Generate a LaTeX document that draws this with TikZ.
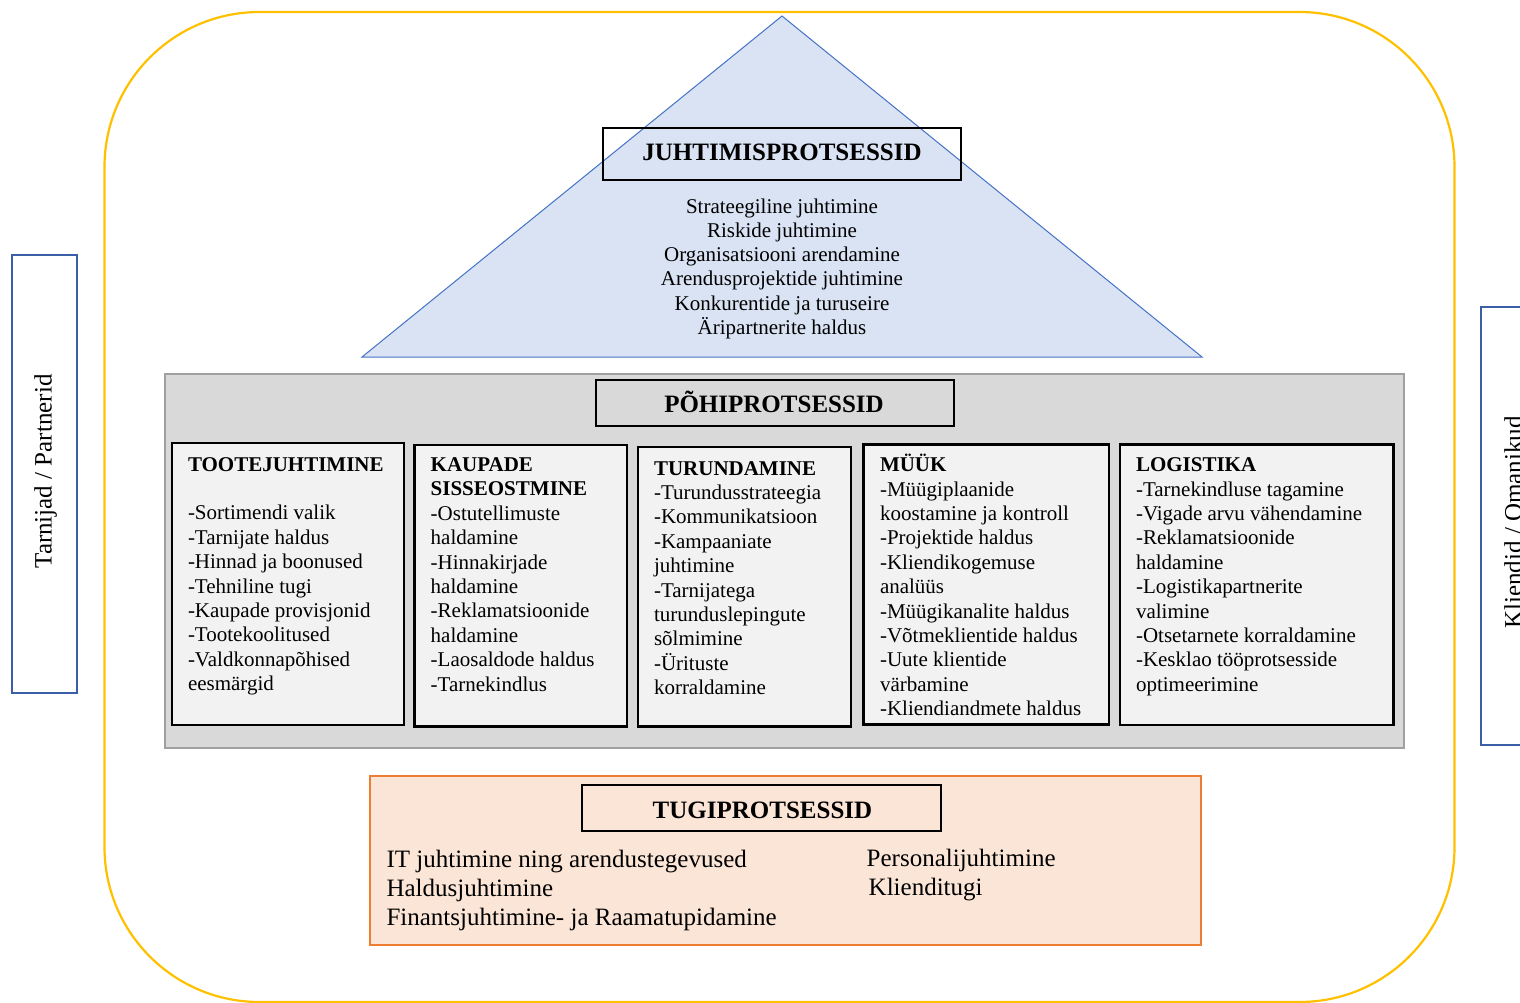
\documentclass[tikz,border=0pt]{standalone}
\usepackage{fontspec}
\setmainfont{Liberation Serif}
\newcommand\setfs[2]{\fontsize{#1}{#2}\selectfont}
\definecolor{frameyellow}{HTML}{FFC000}
\definecolor{sideblue}{HTML}{3A5FA6}
\definecolor{trifill}{HTML}{DAE3F3}
\definecolor{triline}{HTML}{4472C4}
\definecolor{corefill}{HTML}{D9D9D9}
\definecolor{coreline}{HTML}{A0A0A0}
\definecolor{cardfill}{HTML}{F2F2F2}
\definecolor{supfill}{HTML}{FBE5D6}
\definecolor{supline}{HTML}{ED7D31}
\begin{document}
\begin{tikzpicture}[x=1pt,y=-1pt,
  every node/.style={inner sep=0pt, outer sep=0pt, text=black},
  headtxt/.style={font=\setfs{25}{30}\bfseries, anchor=base},
  cardtxt/.style={font=\setfs{21}{24.4}, align=left, anchor=north west},
  sidetxt/.style={font=\setfs{25}{30}, rotate=90, anchor=base},
  card/.style={draw=black, line width=2.4pt, fill=cardfill},
  headbox/.style={draw=black, line width=2pt},
  sidebox/.style={draw=sideblue, line width=2pt}]
\useasboundingbox (0,0) rectangle (1520,1003);

% outer frame of the organisation
\draw[frameyellow, line width=2.2pt, rounded corners=155pt] (104.5,12) rectangle (1454.5,1002);

% stakeholders on both sides
\draw[sidebox] (11.5,255) rectangle (76.5,693);
\node[sidetxt] (suppliers) at (51.5,471.5) {Tarnijad / Partnerid};
\draw[sidebox] (1480.5,307) rectangle (1530,744.5);
\node[sidetxt] (customers) at (1521.5,522.5) {Kliendid / Omanikud};

% management processes
\draw[triline, fill=trifill, line width=1pt] (782,16) -- (1202,357) -- (362,357) -- cycle;
\draw[headbox] (603,128.3) rectangle (961,180.3);
\node[headtxt] (mgmt) at (782,160.7) {JUHTIMISPROTSESSID};
\node[font=\setfs{21}{24.2}, align=center, anchor=north] (mgmtlist) at (782,193.3)
  {\rule{0pt}{20pt}Strateegiline juhtimine\\
   Riskide juhtimine\\
   Organisatsiooni arendamine\\
   Arendusprojektide juhtimine\\
   Konkurentide ja turuseire\\
   Äripartnerite haldus};

% core processes
\draw[coreline, fill=corefill, line width=2pt] (165,374.3) rectangle (1404.3,748);
\draw[headbox, fill=corefill] (596,380.3) rectangle (953.7,426.3);
\node[headtxt] (core) at (774,412.7) {PÕHIPROTSESSID};

\draw[card] (171.7,443) rectangle (403.7,725);
\node[cardtxt] (product) at (188,451)
  {\rule{0pt}{20pt}\textbf{TOOTEJUHTIMINE}\\[24.4pt]
   -Sortimendi valik\\
   -Tarnijate haldus\\
   -Hinnad ja boonused\\
   -Tehniline tugi\\
   -Kaupade provisjonid\\
   -Tootekoolitused\\
   -Valdkonnapõhised\\
   eesmärgid};

\draw[card] (414.3,445) rectangle (627,726.3);
\node[cardtxt] (purchase) at (430.7,451.5)
  {\rule{0pt}{20pt}\textbf{KAUPADE}\\
   \textbf{SISSEOSTMINE}\\
   -Ostutellimuste\\
   haldamine\\
   -Hinnakirjade\\
   haldamine\\
   -Reklamatsioonide\\
   haldamine\\
   -Laosaldode haldus\\
   -Tarnekindlus};

\draw[card] (637.7,447) rectangle (851,726.3);
\node[cardtxt] (marketing) at (654,455)
  {\rule{0pt}{20pt}\textbf{TURUNDAMINE}\\
   -Turundusstrateegia\\
   -Kommunikatsioon\\
   -Kampaaniate\\
   juhtimine\\
   -Tarnijatega\\
   turunduslepingute\\
   sõlmimine\\
   -Ürituste\\
   korraldamine};

\draw[card] (863.3,444.3) rectangle (1108.7,724.3);
\node[cardtxt] (sales) at (880,451.7)
  {\rule{0pt}{20pt}\textbf{MÜÜK}\\
   -Müügiplaanide\\
   koostamine ja kontroll\\
   -Projektide haldus\\
   -Kliendikogemuse\\
   analüüs\\
   -Müügikanalite haldus\\
   -Võtmeklientide haldus\\
   -Uute klientide\\
   värbamine\\
   -Kliendiandmete haldus};

\draw[card] (1120,444.3) rectangle (1393.3,725);
\node[cardtxt] (logistics) at (1136,451.7)
  {\rule{0pt}{20pt}\textbf{LOGISTIKA}\\
   -Tarnekindluse tagamine\\
   -Vigade arvu vähendamine\\
   -Reklamatsioonide\\
   haldamine\\
   -Logistikapartnerite\\
   valimine\\
   -Otsetarnete korraldamine\\
   -Kesklao tööprotsesside\\
   optimeerimine};

% support processes
\draw[supline, fill=supfill, line width=2pt] (370,775.7) rectangle (1200.7,944.5);
\draw[headbox] (582,785) rectangle (940.5,831);
\node[headtxt] (support) at (762.5,818.3) {TUGIPROTSESSID};
\node[font=\setfs{25}{28.7}, align=left, anchor=north west] (supleft) at (386.5,845.7)
  {\rule{0pt}{22pt}IT juhtimine ning arendustegevused\\
   Haldusjuhtimine\\
   Finantsjuhtimine- ja Raamatupidamine};
\node[font=\setfs{25}{28.7}, align=left, anchor=north west] (supright) at (866.7,844.7)
  {\rule{0pt}{22pt}Personalijuhtimine\\
   \hspace*{2pt}Klienditugi};
\end{tikzpicture}
\end{document}
